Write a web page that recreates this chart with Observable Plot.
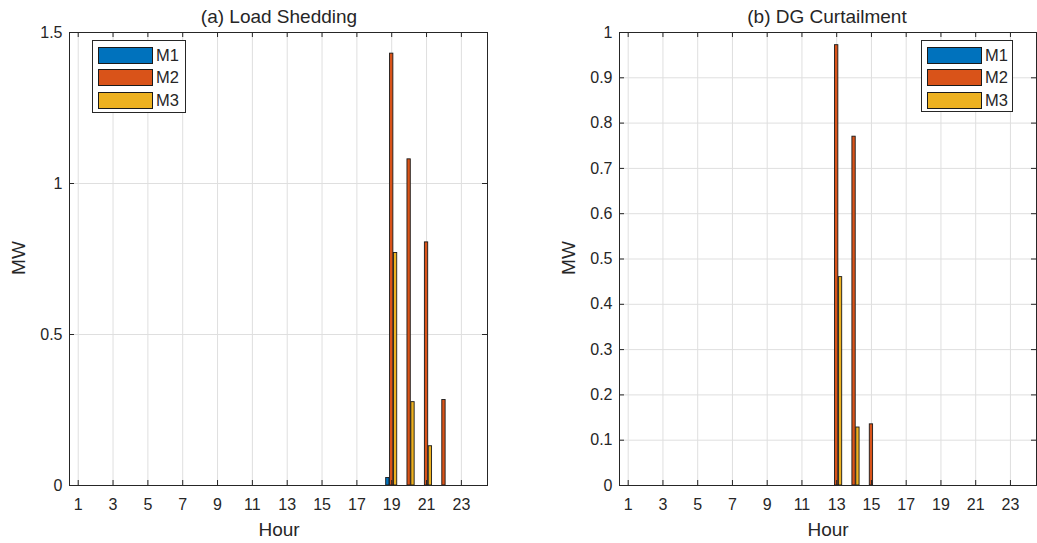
<!DOCTYPE html>
<html>
<head>
<meta charset="utf-8">
<script src="https://cdn.jsdelivr.net/npm/d3@7"></script>
<script src="https://cdn.jsdelivr.net/npm/@observablehq/plot@0.6"></script>
<style>
  body { margin: 0; background: #fff; }
  #wrap { position: relative; width: 1037px; height: 543px; font-family: "Liberation Sans", Arial, sans-serif; color: #262626; }
  .plot { position: absolute; top: 0; }
  .lbl { position: absolute; white-space: nowrap; }
  .legend { position: absolute; border: 1px solid #262626; background: #fff; box-sizing: border-box; padding: 3px 0 0 5px; }
  .row { display: flex; align-items: center; height: 22.5px; }
  .sw { width: 55px; height: 17px; border: 1px solid #1a1a1a; box-sizing: border-box; margin-right: 3px; }
  .row span { font-size: 16.5px; }
</style>
</head>
<body>
<div id="wrap"></div>
<script>
// ---- data ----
const hours = d3.range(1, 25);
const xTicks = [1, 3, 5, 7, 9, 11, 13, 15, 17, 19, 21, 23];
const series = ["M1", "M2", "M3"];
const colors = ["#0072BD", "#D95319", "#EDB120"];

// (a) Load Shedding, MW per hour 1..24
const shedM1 = [0,0,0,0,0,0,0,0,0,0,0,0,0,0,0,0,0,0,0.025,0,0,0,0,0];
const shedM2 = [0,0,0,0,0,0,0,0,0,0,0,0,0,0,0,0,0,0,1.43,1.08,0.805,0.283,0,0];
const shedM3 = [0,0,0,0,0,0,0,0,0,0,0,0,0,0,0,0,0,0,0.77,0.276,0.13,0,0,0];
const shedTicks = [0, 0.5, 1, 1.5];

// (b) DG Curtailment, MW per hour 1..24
const dgM1 = [0,0,0,0,0,0,0,0,0,0,0,0,0,0,0,0,0,0,0,0,0,0,0,0];
const dgM2 = [0,0,0,0,0,0,0,0,0,0,0,0,0.972,0.77,0.135,0,0,0,0,0,0,0,0,0];
const dgM3 = [0,0,0,0,0,0,0,0,0,0,0,0,0.46,0.128,0,0,0,0,0,0,0,0,0,0];
const dgTicks = [0, 0.1, 0.2, 0.3, 0.4, 0.5, 0.6, 0.7, 0.8, 0.9, 1];

// grouped-bar layout (MATLAB-like)
const groupOffset = [-0.222, 0, 0.222];
const barW = 0.19;

function makeTable(arrs) {
  const rows = [];
  arrs.forEach((arr, si) => {
    arr.forEach((v, i) => {
      if (v > 0) rows.push({hour: hours[i], series: series[si], value: v,
        x1: hours[i] + groupOffset[si] - barW / 2, x2: hours[i] + groupOffset[si] + barW / 2});
    });
  });
  return rows;
}

const H = 543, mTop = 32, mBottom = 58;
const innerH = H - mTop - mBottom;

function panel(opts) {
  const {data, yDomain, yTicks, width, marginLeft, marginRight, fmt} = opts;
  const innerW = width - marginLeft - marginRight;
  const tk = 5;
  return Plot.plot({
    width, height: H, marginTop: mTop, marginBottom: mBottom, marginLeft, marginRight,
    style: {fontFamily: "'Liberation Sans', Arial, sans-serif", fontSize: "16px", color: "#262626", background: "transparent"},
    x: {domain: [0.5, 24.5], ticks: xTicks, tickSize: 0, tickPadding: 13, label: null},
    y: {domain: yDomain, ticks: yTicks, tickSize: 0, tickPadding: 7, label: null, tickFormat: fmt},
    color: {domain: series, range: colors},
    marks: [
      Plot.gridX(xTicks, {stroke: "#dfdfdf", strokeOpacity: 1}),
      Plot.gridY(yTicks, {stroke: "#dfdfdf", strokeOpacity: 1}),
      Plot.rectY(data, {x1: "x1", x2: "x2", y: "value", fill: "series", stroke: "#1a1a1a", strokeWidth: 0.9}),
      Plot.tickX(xTicks, {x: d => d, insetTop: innerH - tk, stroke: "#262626"}),
      Plot.tickX(xTicks, {x: d => d, insetBottom: innerH - tk, stroke: "#262626"}),
      Plot.tickY(yTicks, {y: d => d, insetRight: innerW - tk, stroke: "#262626"}),
      Plot.tickY(yTicks, {y: d => d, insetLeft: innerW - tk, stroke: "#262626"}),
      Plot.frame({stroke: "#262626"})
    ]
  });
}

const wrap = document.getElementById("wrap");

function place(el, left) {
  el.classList.add("plot");
  el.style.left = left + "px";
  wrap.appendChild(el);
}

place(panel({data: makeTable([shedM1, shedM2, shedM3]), yDomain: [0, 1.5], yTicks: shedTicks,
  width: 500, marginLeft: 69, marginRight: 13, fmt: d => String(d)}), 0);
place(panel({data: makeTable([dgM1, dgM2, dgM3]), yDomain: [0, 1], yTicks: dgTicks,
  width: 517, marginLeft: 99, marginRight: 1, fmt: d => String(+d.toFixed(1))}), 520);

function label(text, cx, cy, size, rotate) {
  const d = document.createElement("div");
  d.className = "lbl";
  d.textContent = text;
  d.style.fontSize = size + "px";
  d.style.left = cx + "px";
  d.style.top = cy + "px";
  d.style.transform = "translate(-50%, -50%)" + (rotate ? " rotate(-90deg)" : "");
  wrap.appendChild(d);
}

label("(a) Load Shedding", 279, 17, 19);
label("(b) DG Curtailment", 827, 17, 19);
label("MW", 19, 258, 19, true);
label("MW", 569, 258, 19, true);
label("Hour", 279, 530, 19);
label("Hour", 828, 530, 19);

function legend(left, top, width, height) {
  const box = document.createElement("div");
  box.className = "legend";
  box.style.left = left + "px";
  box.style.top = top + "px";
  box.style.width = width + "px";
  box.style.height = height + "px";
  series.forEach((s, i) => {
    const r = document.createElement("div");
    r.className = "row";
    const sw = document.createElement("div");
    sw.className = "sw";
    sw.style.background = colors[i];
    const t = document.createElement("span");
    t.textContent = s;
    r.appendChild(sw);
    r.appendChild(t);
    box.appendChild(r);
  });
  wrap.appendChild(box);
}
legend(92, 40, 94, 73);
legend(921, 40, 92, 72);
</script>
</body>
</html>
